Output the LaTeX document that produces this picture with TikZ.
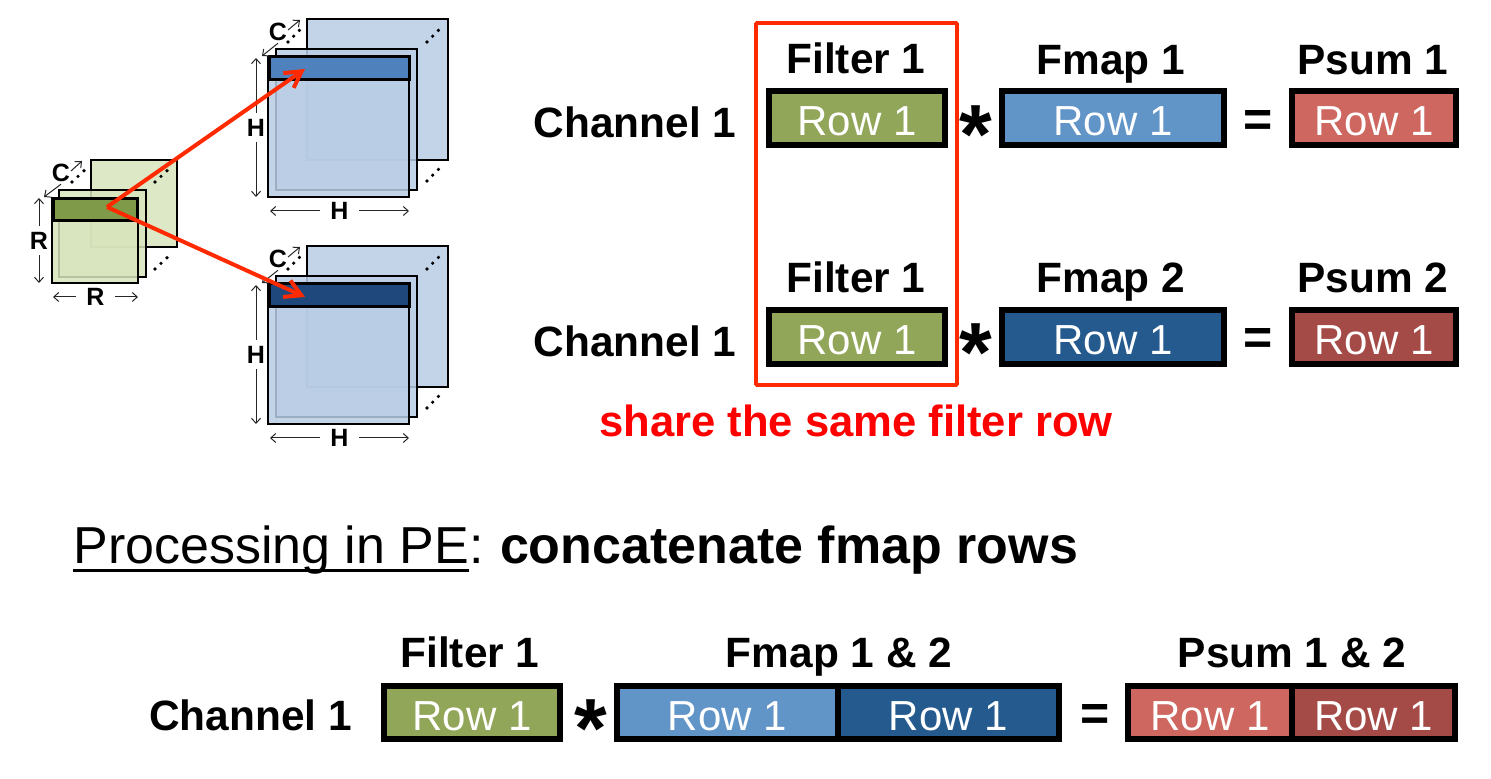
\documentclass[tikz,border=0pt]{standalone}
\usepackage{fontspec}
\setmainfont{Liberation Sans}
\usetikzlibrary{arrows.meta}
\definecolor{filterfill}{HTML}{92A65A}
\definecolor{fmapone}{HTML}{6194C7}
\definecolor{fmaptwo}{HTML}{245A8D}
\definecolor{psumone}{HTML}{CD6760}
\definecolor{psumtwo}{HTML}{A44B47}
\definecolor{redline}{HTML}{FF2A00}
\definecolor{platebl}{HTML}{B9CDE5}
\definecolor{plategr}{HTML}{D7E4BC}
\definecolor{stripgr}{HTML}{7F9A48}
\definecolor{stripa}{HTML}{4F81BD}
\definecolor{stripb}{HTML}{1F497D}
\newcommand{\peline}[1]{\setbox0\hbox{#1}\rlap{\rule[-4.4pt]{\wd0}{1.2pt}}\box0}
\tikzset{
    rowbox/.style={draw, line width=3pt, text=white, inner sep=0pt,
        minimum height=27pt, text height=17.5pt, text depth=0pt, font=\fontsize{21}{24}\selectfont},
    headlab/.style={text height=15.2pt, text depth=0pt, font=\fontsize{21.2}{24}\selectfont\bfseries},
    oplab/.style={font=\fontsize{25}{30}\selectfont\bfseries},
    starlab/.style={font=\fontsize{42}{46}\selectfont\bfseries},
    plate/.style={draw, line width=1pt, fill opacity=0.85},
    striprow/.style={draw, line width=1.7pt, inner sep=0pt},
    dimlab/.style={text=black, font=\fontsize{12.5}{14}\selectfont\bfseries, fill=white, inner sep=1pt},
    dimv/.style={dimlab, inner ysep=3pt},
    dimh/.style={dimlab, inner xsep=5pt},
    dimline/.style={line width=0.5pt, black!85, >={Straight Barb[length=2.5pt,width=4.5pt]}},
    redarrow/.style={draw=redline, line width=2pt, -{Straight Barb[length=8pt,width=9pt]}},
}
\begin{document}
\begin{tikzpicture}[x=0.5pt, y=-0.5pt]
    \useasboundingbox (0,0) rectangle (1491,779);

    % green stack
    \draw[plate, fill=plategr] (91,160) rectangle (177,247);
    \draw[plate, fill=plategr] (59,190) rectangle (146,277);
    \draw[plate, fill=plategr] (52,198) rectangle (138,283);
    \node[striprow, fill=stripgr, minimum width=41.8pt, minimum height=10.8pt] (grow) at (95.5,209.5) {};
    \coordinate (redsrc) at (107,207);
    \node[dimlab, fill=none] (rc) at (61,173) {C};
    \draw[dimline, ->] (rc.south) -- (44,197);
    \draw[dimline, ->] (71,171) -- (82,161);
    \coordinate (rt) at (39,198);
    \coordinate (rb) at (39,283);
    \draw[dimline, <->] (rt) -- node[dimv] {R} (rb);
    \coordinate (rl) at (53,297);
    \coordinate (rr) at (138,297);
    \draw[dimline, <->] (rl) -- node[dimh] {R} (rr);
    \foreach \x/\y in {72/182, 155/182, 155/269}
        \foreach \i in {0,1,2}
            \fill (\x+6*\i,\y-5.6*\i) circle (0.9pt);

    % blue stacks
    \foreach \dy/\rowfill/\nm in {0/stripa/a, 227/stripb/b} {
        \draw[plate, fill=platebl] (307,19+\dy) rectangle (448,160+\dy);
        \draw[plate, fill=platebl] (276,49+\dy) rectangle (417,190+\dy);
        \draw[plate, fill=platebl] (268,57+\dy) rectangle (409,197+\dy);
        \node[striprow, fill=\rowfill, minimum width=69.8pt, minimum height=11.3pt] (row\nm) at (339.5,68+\dy) {};
        \node[dimlab, fill=none] (c\nm) at (278,32+\dy) {C};
        \draw[dimline, ->] (c\nm.south) -- (262,56+\dy);
        \draw[dimline, ->] (288,30+\dy) -- (300,20+\dy);
        \coordinate (ht\nm) at (256,58+\dy);
        \coordinate (hb\nm) at (256,197+\dy);
        \draw[dimline, <->] (ht\nm) -- node[dimv] {H} (hb\nm);
        \coordinate (hl\nm) at (270,211+\dy);
        \coordinate (hr\nm) at (409,211+\dy);
        \draw[dimline, <->] (hl\nm) -- node[dimh] {H} (hr\nm);
        \foreach \x/\y in {288/42, 427/42, 427/181}
            \foreach \i in {0,1,2}
                \fill (\x+5.7*\i,\y-5.8*\i+\dy) circle (0.9pt);
    }
    \coordinate (reda) at (305,69);
    \coordinate (redb) at (305,297);
    \draw[redarrow] (redsrc) -- (reda);
    \draw[redarrow] (redsrc) -- (redb);

    % first row
    \node[headlab] (chtop) at (635,122) {Channel 1};
    \node[rowbox, fill=filterfill, minimum width=88pt] (ftop) at (857,118) {Row 1};
    \node[starlab] (stop) at (975.5,135) {*};
    \node[rowbox, fill=fmapone, minimum width=111pt] (mtop) at (1113,118) {Row 1};
    \node[oplab] (etop) at (1258,124) {=};
    \node[rowbox, fill=psumone, minimum width=82pt] (ptop) at (1374,118) {Row 1};
    \node[headlab] at (856,58) {Filter 1};
    \node[headlab] at (1111,59) {Fmap 1};
    \node[headlab] at (1373,59) {Psum 1};

    % second row
    \node[headlab] (chbot) at (635,341) {Channel 1};
    \node[rowbox, fill=filterfill, minimum width=88pt] (fbot) at (857,337) {Row 1};
    \node[starlab] (sbot) at (975.5,353) {*};
    \node[rowbox, fill=fmaptwo, minimum width=111pt] (mbot) at (1113,337) {Row 1};
    \node[oplab] (ebot) at (1258,342) {=};
    \node[rowbox, fill=psumtwo, minimum width=82pt] (pbot) at (1374,337) {Row 1};
    \node[headlab] at (856,277) {Filter 1};
    \node[headlab] at (1111,277) {Fmap 2};
    \node[headlab] at (1373,277) {Psum 2};

    \draw[redline, line width=1.8pt, rounded corners=0.5pt] (756,23) rectangle (957,385);
    \node[text=red, font=\fontsize{21.8}{24}\selectfont\bfseries] at (856,421) {share the same filter row};

    \node[font=\fontsize{26}{30}\selectfont, anchor=base west, inner sep=0pt] at (73,563)
        {\peline{Processing in PE}:\hspace{-1.5pt} \textbf{concatenate fmap rows}};

    % third row
    \node[headlab] (chpe) at (250.5,715) {Channel 1};
    \node[rowbox, fill=filterfill, minimum width=88pt, minimum height=26.5pt] (fpe) at (472,712.5) {Row 1};
    \node[starlab] (spe) at (591,729) {*};
    \node[rowbox, fill=fmapone, minimum width=110.5pt, minimum height=26.5pt] (mpea) at (727.5,712.5) {Row 1};
    \node[rowbox, fill=fmaptwo, minimum width=110.5pt, minimum height=26.5pt] (mpeb) at (948.5,712.5) {Row 1};
    \node[oplab] (epe) at (1095,717) {=};
    \node[rowbox, fill=psumone, minimum width=82pt, minimum height=26.5pt] (ppea) at (1210,712.5) {Row 1};
    \node[rowbox, fill=psumtwo, minimum width=81.5pt, minimum height=26.5pt] (ppeb) at (1373.5,712.5) {Row 1};
    \node[headlab] at (470,652) {Filter 1};
    \node[headlab] at (839,652) {Fmap 1 \& 2};
    \node[headlab] at (1292,652) {Psum 1 \& 2};
\end{tikzpicture}
\end{document}
